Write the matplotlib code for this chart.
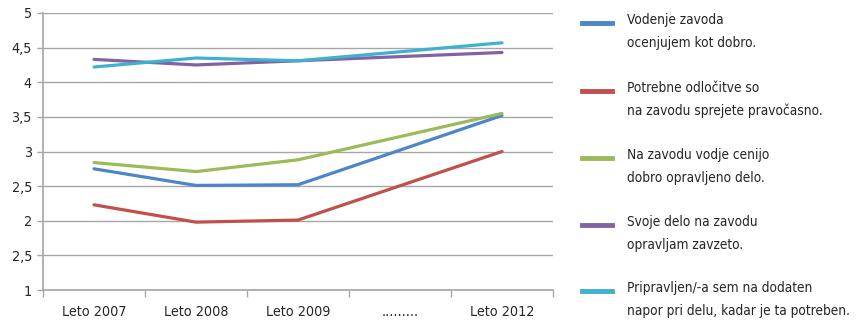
import matplotlib
matplotlib.use("Agg")
import matplotlib.pyplot as plt
from matplotlib.lines import Line2D
import numpy as np

plt.rcParams['font.family'] = ['DejaVu Sans']
plt.rcParams['font.stretch'] = 'condensed'

categories = ["Leto 2007", "Leto 2008", "Leto 2009", ".........", "Leto 2012"]
# positions of the categories that carry data (the dotted one is empty)
data_idx = [0, 1, 2, 4]

vodenje = [2.75, 2.51, 2.52, 3.52]
odlocitve = [2.23, 1.98, 2.01, 3.00]
cenijo = [2.84, 2.71, 2.88, 3.55]
zavzeto = [4.33, 4.25, 4.31, 4.43]
pripravljen = [4.22, 4.35, 4.31, 4.57]

series_labels = [
    ("Vodenje zavoda", "ocenjujem kot dobro."),
    ("Potrebne odločitve so", "na zavodu sprejete pravočasno."),
    ("Na zavodu vodje cenijo", "dobro opravljeno delo."),
    ("Svoje delo na zavodu", "opravljam zavzeto."),
    ("Pripravljen/-a sem na dodaten", "napor pri delu, kadar je ta potreben."),
]
colors = ["#4a86c8", "#c0504d", "#9bbb59", "#8064a2", "#3fb1cf"]

y_ticks = [1, 1.5, 2, 2.5, 3, 3.5, 4, 4.5, 5]
y_tick_labels = ["1", "2,5", "2", "2,5", "3", "3,5", "4", "4,5", "5"]

grey = "#a6a6a6"
txt = "#262626"
fs = 10.3
leg_fs = 9.8

fig = plt.figure(figsize=(8.56, 3.21), dpi=100)
ax = fig.add_axes([43 / 856, 1 - 290 / 321, 510 / 856, 277 / 321])

all_series = [vodenje, odlocitve, cenijo, zavzeto, pripravljen]
for vals, c in zip(all_series, colors):
    ax.plot(data_idx, vals, color=c, lw=2.3, solid_capstyle='round', zorder=3)

ax.set_xlim(-0.5, len(categories) - 0.5)
ax.set_ylim(1, 5)
ax.set_yticks(y_ticks)
ax.set_yticklabels(y_tick_labels)
ax.set_xticks(np.arange(len(categories)))
ax.set_xticklabels(categories)
ax.set_xticks(np.arange(len(categories) + 1) - 0.5, minor=True)

ax.grid(axis='y', color=grey, lw=1)
ax.set_axisbelow(True)
for s in ['top', 'right']:
    ax.spines[s].set_visible(False)
for s in ['left', 'bottom']:
    ax.spines[s].set_color(grey)
    ax.spines[s].set_linewidth(1.2)

ax.tick_params(axis='x', which='major', length=0, pad=11, labelsize=fs, labelcolor=txt)
ax.tick_params(axis='x', which='minor', length=5, color=grey, width=1)
ax.tick_params(axis='y', length=4, color=grey, width=1, pad=4, labelsize=fs, labelcolor=txt)

# legend drawn by hand so the swatch sits on the first text line
entry_tops = [20, 88, 155, 222, 288]
for (l1, l2), c, top in zip(series_labels, colors, entry_tops):
    yh = 1 - (top + 2.5) / 321
    fig.add_artist(Line2D([582 / 856, 612 / 856], [yh, yh], color=c, lw=3.5,
                          transform=fig.transFigure))
    fig.text(627 / 856, 1 - top / 321, l1, fontsize=leg_fs, color=txt, va='center', ha='left')
    fig.text(627 / 856, 1 - (top + 23) / 321, l2, fontsize=leg_fs, color=txt, va='center', ha='left')

fig.savefig("out.png", dpi=100, facecolor='white')
